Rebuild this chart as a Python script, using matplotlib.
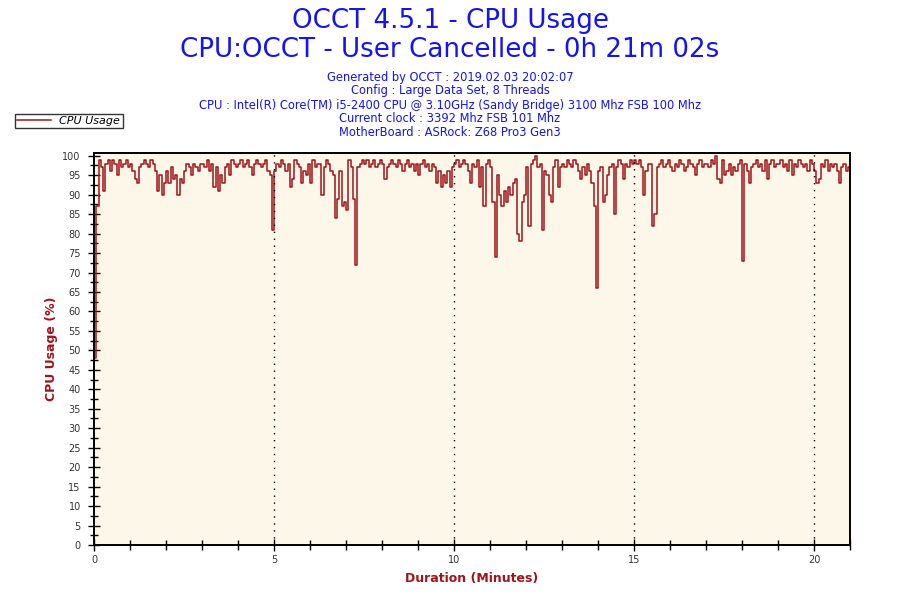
import numpy as np
import matplotlib
matplotlib.use('Agg')
import matplotlib.pyplot as plt
from matplotlib.ticker import MultipleLocator

# CPU usage (%), 16 samples per minute, one row per minute
usage_rows = [
    [48, 87, 99, 97, 91, 98, 99, 96, 99, 98, 95, 99, 97, 98, 99, 97],
    [98, 96, 94, 93, 97, 98, 99, 98, 97, 99, 98, 96, 91, 95, 90, 93],
    [96, 93, 97, 94, 95, 90, 94, 93, 96, 98, 97, 95, 98, 97, 96, 98],
    [98, 97, 99, 96, 98, 92, 97, 91, 95, 93, 97, 98, 95, 99, 98, 97],
    [98, 99, 97, 98, 99, 97, 95, 98, 99, 98, 97, 98, 99, 96, 95, 81],
    [96, 98, 97, 99, 98, 96, 98, 92, 94, 99, 98, 97, 93, 96, 95, 98],
    [93, 99, 97, 98, 98, 90, 97, 99, 98, 96, 95, 84, 89, 96, 87, 88],
    [86, 99, 97, 89, 72, 97, 98, 99, 98, 99, 97, 98, 99, 97, 98, 99],
    [98, 94, 97, 98, 99, 98, 97, 99, 98, 96, 98, 99, 97, 98, 96, 98],
    [95, 98, 99, 97, 98, 96, 98, 97, 93, 96, 92, 95, 93, 96, 92, 97],
    [98, 99, 97, 98, 99, 98, 96, 93, 98, 97, 99, 92, 97, 87, 98, 99],
    [97, 88, 74, 95, 90, 87, 91, 88, 92, 90, 93, 94, 80, 78, 88, 90],
    [97, 82, 98, 99, 100, 97, 98, 81, 96, 95, 90, 88, 97, 99, 92, 97],
    [98, 97, 99, 98, 97, 99, 98, 96, 94, 97, 95, 98, 96, 93, 87, 66],
    [96, 97, 88, 90, 95, 97, 98, 85, 97, 99, 98, 94, 98, 97, 99, 98],
    [99, 98, 99, 97, 90, 96, 98, 98, 82, 85, 97, 98, 99, 97, 98, 99],
    [97, 96, 98, 97, 99, 98, 96, 97, 99, 98, 97, 95, 98, 99, 97, 98],
    [98, 97, 99, 98, 100, 94, 93, 99, 95, 96, 98, 95, 97, 96, 98, 99],
    [73, 98, 96, 93, 97, 98, 99, 97, 98, 96, 99, 94, 98, 99, 97, 98],
    [98, 99, 97, 98, 96, 99, 95, 98, 97, 99, 98, 97, 98, 96, 99, 98],
    [96, 93, 94, 98, 97, 99, 96, 98, 97, 98, 96, 93, 97, 98, 96, 97],
]
last_value = 96
samples_per_minute = 16

usage = np.array([v for row in usage_rows for v in row] + [last_value], dtype=float)
minutes = np.arange(len(usage)) / samples_per_minute

title_lines = ['OCCT 4.5.1 - CPU Usage', 'CPU:OCCT - User Cancelled - 0h 21m 02s']
info_lines = [
    'Generated by OCCT : 2019.02.03 20:02:07',
    'Config : Large Data Set, 8 Threads',
    'CPU : Intel(R) Core(TM) i5-2400 CPU @ 3.10GHz (Sandy Bridge) 3100 Mhz FSB 100 Mhz',
    'Current clock : 3392 Mhz FSB 101 Mhz',
    'MotherBoard : ASRock: Z68 Pro3 Gen3',
]

red = '#A0141A'
blue = '#1414F0'

fig = plt.figure(figsize=(9, 6), dpi=100)
ax = fig.add_axes([94 / 900, 1 - 545 / 600, 756 / 900, 392 / 600])
ax.set_facecolor('#FDF7E9')

ax.plot(minutes, usage, color=red, linewidth=1.1, drawstyle='steps-post', label='CPU Usage')

ax.set_xlim(0, 21)
ax.set_ylim(0, 100.7)

ax.xaxis.set_major_locator(MultipleLocator(5))
ax.xaxis.set_minor_locator(MultipleLocator(1))
ax.yaxis.set_major_locator(MultipleLocator(5))
ax.yaxis.set_minor_locator(MultipleLocator(2.5))
ax.tick_params(axis='both', which='major', direction='inout', length=9, width=1, labelsize=7, colors='black')
ax.tick_params(axis='x', which='minor', direction='inout', length=7, width=1)
ax.tick_params(axis='y', which='minor', direction='inout', length=6, width=1)
ax.tick_params(axis='y', which='major', pad=5)
ax.tick_params(axis='x', which='major', pad=3)
for lab in ax.get_xticklabels() + ax.get_yticklabels():
    lab.set_color('#333333')

for x in [5, 10, 15, 20]:
    ax.axvline(x, color='black', linestyle=(0, (1, 4)), linewidth=1)

for sp in ax.spines.values():
    sp.set_linewidth(1.4)
    sp.set_color('black')

ax.set_xlabel('Duration (Minutes)', color=red, fontweight='bold', fontsize=9, labelpad=5)
ax.set_ylabel('CPU Usage (%)', color=red, fontweight='bold', fontsize=9, labelpad=3)

fig.text(0.5, 1 - 21 / 600, title_lines[0], ha='center', va='center', fontsize=18.8, color=blue)
fig.text(0.5, 1 - 50 / 600, title_lines[1], ha='center', va='center', fontsize=18.8, color=blue)
for i, line in enumerate(info_lines):
    fig.text(0.5, 1 - (77 + 14 * i) / 600, line, ha='center', va='center', fontsize=8.3, color=blue)

leg = fig.legend(loc='upper left', bbox_to_anchor=(15 / 900, 1 - 114 / 600), frameon=True,
                 fancybox=False, prop={'size': 8, 'style': 'italic'}, handlelength=3,
                 borderpad=0.2, borderaxespad=0)
leg.get_frame().set_edgecolor('black')
leg.get_frame().set_linewidth(1)

fig.savefig('out.png', dpi=100)
